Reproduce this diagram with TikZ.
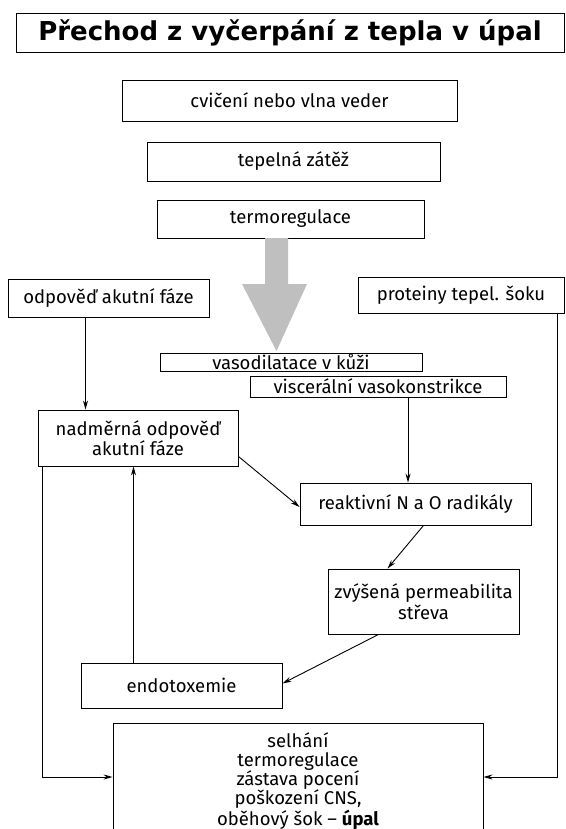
\documentclass[tikz,border=0pt]{standalone}
\usepackage{fontspec}
\setmainfont{Fira Sans}
\newfontfamily\titlefont{DejaVu Sans}
\usetikzlibrary{arrows.meta}
\begin{document}
\begin{tikzpicture}[x=1pt,y=-1pt,>={Stealth[length=9pt,width=5pt]},line width=0.9pt,
  box/.style={draw,align=center,inner sep=0pt,font=\fontsize{18.5}{20.5}\selectfont}]
\clip (0,0) rectangle (565,829);

\node[box,minimum width=548,minimum height=39,font=\titlefont\bfseries\fontsize{26}{30}\selectfont] (title) at (290,32.5) {Přechod z vyčerpání z tepla v úpal};

\node[box,minimum width=335,minimum height=41] (cviceni) at (289.5,100.5) {cvičení nebo vlna veder};
\node[box,minimum width=293,minimum height=39] (zatez) at (293.5,161.5) {tepelná zátěž};
\node[box,minimum width=267,minimum height=38] (termo) at (290.5,219) {termoregulace};
\node[box,minimum width=201,minimum height=38] (odpoved) at (108.5,298) {odpověď akutní fáze};
\node[box,minimum width=206,minimum height=36] (proteiny) at (461,295) {proteiny tepel. šoku};
\node[box,minimum width=262,minimum height=18] (vasodil) at (291,362) {vasodilatace v kůži};
\node[box,minimum width=256,minimum height=21] (viscer) at (378,386.5) {viscerální vasokonstrikce};
\node[box,minimum width=200,minimum height=56] (nadmer) at (138,438) {nadměrná odpověď\\akutní fáze};
\node[box,minimum width=231,minimum height=42] (radikaly) at (415.5,504) {reaktivní N a O radikály};
\node[box,minimum width=191,minimum height=65] (permeab) at (423.5,601.5) {zvýšená permeabilita\\střeva};
\node[box,minimum width=201,minimum height=45] (endotox) at (181.5,685.5) {endotoxemie};
\node[box,minimum width=370,minimum height=116,font=\fontsize{18.5}{19}\selectfont] (selhani) at (298,781) {selhání\\termoregulace\\zástava pocení\\poškození CNS,\\oběhový šok -- \textbf{úpal}};

% big grey arrow
\fill[gray!50] (265,238) -- (288,238) -- (288,284) -- (307,284) -- (276.5,351)
  -- (242,284) -- (265,284) -- cycle;

\draw[->] ([xshift=-23pt]odpoved.south) -- ([xshift=-23pt]odpoved.south |- nadmer.north);
\draw[->] ([xshift=30pt]viscer.south) -- ([xshift=30pt]viscer.south |- radikaly.north);
\draw[->] ([yshift=10pt]nadmer.south east) -- ([yshift=-3pt]radikaly.west);
\draw[->] ([xshift=8pt]radikaly.south) -- ([xshift=-36pt]permeab.north);
\draw[->] ([xshift=-45pt]permeab.south) -- ([yshift=2pt]endotox.east);
\draw[->] ([xshift=-48pt]endotox.north) -- ([xshift=-48pt]endotox.north |- nadmer.south);
\draw[->] ([xshift=5pt]nadmer.south west) |- ([yshift=4pt]selhani.west);
\draw[->] ([xshift=-7pt]proteiny.south east) |- ([yshift=4pt]selhani.east);
\end{tikzpicture}
\end{document}
